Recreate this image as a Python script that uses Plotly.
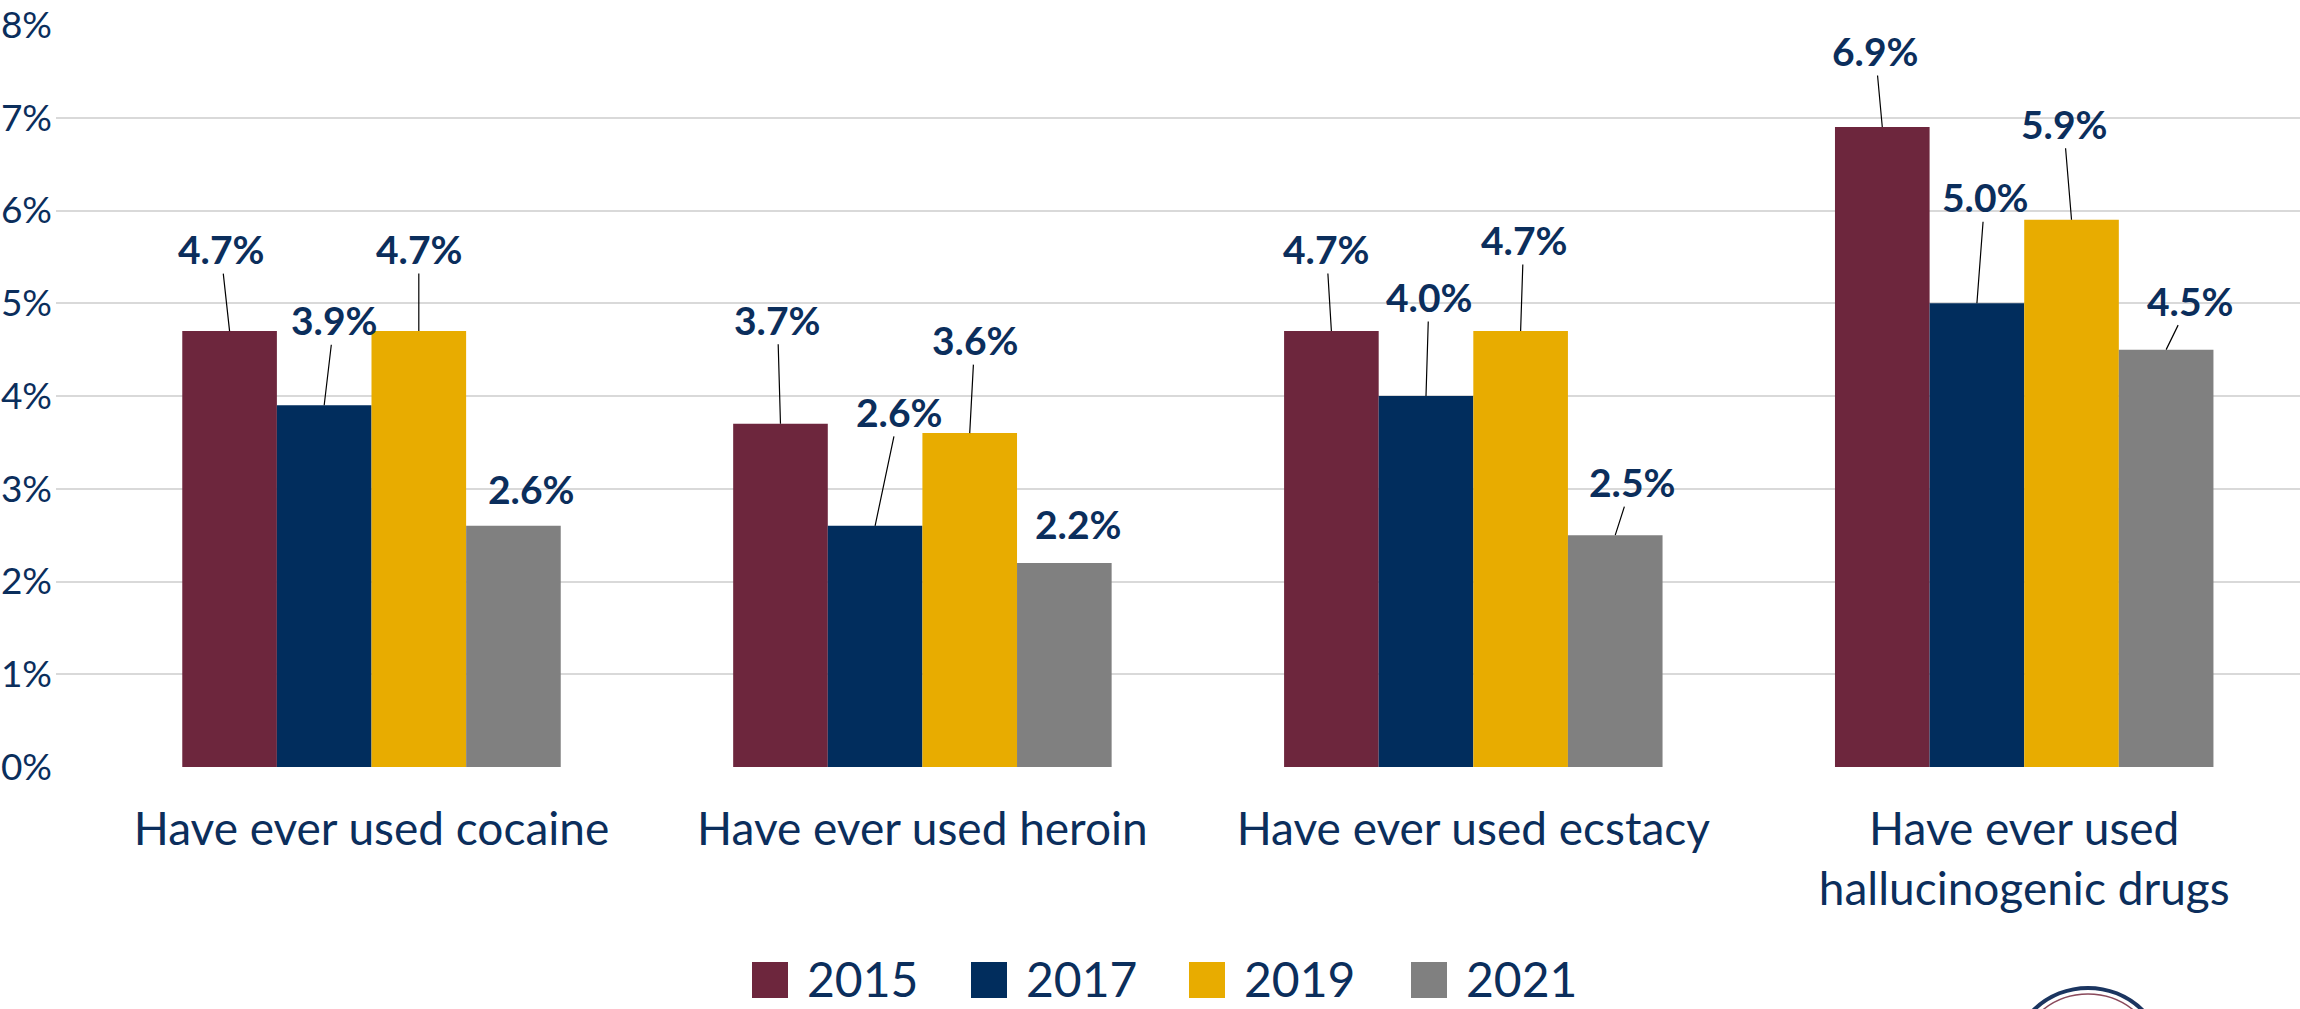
import plotly.graph_objects as go

# ---------------- data ----------------
categories = ["Have ever used cocaine", "Have ever used heroin",
              "Have ever used ecstacy", "Have ever used<br>hallucinogenic drugs"]
years = ["2015", "2017", "2019", "2021"]
v2015 = [4.7, 3.7, 4.7, 6.9]
v2017 = [3.9, 2.6, 4.0, 5.0]
v2019 = [4.7, 3.6, 4.7, 5.9]
v2021 = [2.6, 2.2, 2.5, 4.5]
ytick_vals = [0, 1, 2, 3, 4, 5, 6, 7, 8]
ytick_text = ["0%", "1%", "2%", "3%", "4%", "5%", "6%", "7%", "8%"]

series = [v2015, v2017, v2019, v2021]
colors = ["#6D263D", "#012D5D", "#E8AC00", "#808080"]
NAVY = "#0B2E5C"

# label placement (pixel offsets of label centre from bar top; whether a leader line is drawn)
label_offsets = [
    [(-9, -82, True), (-3, -104, True), (-5, -82, True), (-7, -76, True)],
    [(10, -85, True), (24, -114, True), (3, -99, True), (8, -106, True)],
    [(0, -82, True), (5, -93, True), (3, -91, True), (-8, -96, True)],
    [(18, -37, False), (14, -39, False), (17, -53, True), (24, -49, True)],
]

W, H = 2300, 1009
ML, MR, MT, MB = 56, 0, 25, 242
BARGAP = 0.313
n = len(years)
bw = (1 - BARGAP) / n

fig = go.Figure()
xs = list(range(len(categories)))
for i, (yr, vals) in enumerate(zip(years, series)):
    fig.add_trace(go.Bar(x=xs, y=vals, name=yr, marker_color=colors[i],
                         marker_line_width=0, showlegend=False,
                         hoverinfo="y"))

annotations = []
for i, vals in enumerate(series):
    for j, v in enumerate(vals):
        ax, ay, line = label_offsets[i][j]
        annotations.append(dict(
            x=j + (i - (n - 1) / 2) * bw, y=v, xref="x", yref="y",
            text=f"{v:.1f}%", showarrow=True, arrowhead=0, arrowwidth=1.2,
            arrowcolor="black" if line else "rgba(0,0,0,0)",
            ax=ax, ay=ay, axref="pixel", ayref="pixel",
            font=dict(family="Lato", size=39, color=NAVY, weight="bold"),
            standoff=0, startstandoff=0))

# manual legend (large square swatches)
pw = W - ML - MR
ph = H - MT - MB


def px2paper(px, py):
    return (px - ML) / pw, (H - MB - py) / ph


shapes = []
legend_x = [752, 971, 1189, 1411]
box = 36
ly_top = 962
for i, yr in enumerate(years):
    x0, y1 = px2paper(legend_x[i], ly_top)
    x1, y0 = px2paper(legend_x[i] + box, ly_top + box)
    shapes.append(dict(type="rect", xref="paper", yref="paper", x0=x0, x1=x1, y0=y0, y1=y1,
                       fillcolor=colors[i], line=dict(width=0), layer="above"))
    tx, ty = px2paper(legend_x[i] + box + 18, ly_top + box / 2 - 1)
    annotations.append(dict(x=tx, y=ty, xref="paper", yref="paper", text=yr,
                            showarrow=False, xanchor="left", yanchor="middle",
                            borderpad=0,
                            font=dict(family="Lato", size=48, color=NAVY)))

# partial seal in the bottom-right corner
cx, cy, r = 2088, 1066, 78
for rr, col, wd in [(r, "#1B3560", 4), (r - 6, "#8A4A5C", 1.5)]:
    x0, y1 = px2paper(cx - rr, cy - rr)
    x1, y0 = px2paper(cx + rr, cy + rr)
    shapes.append(dict(type="circle", xref="paper", yref="paper", x0=x0, x1=x1, y0=y0, y1=y1,
                       line=dict(color=col, width=wd), fillcolor="rgba(0,0,0,0)", layer="above"))

fig.update_layout(
    width=W, height=H,
    margin=dict(l=ML, r=MR, t=MT, b=MB, pad=0, autoexpand=False),
    paper_bgcolor="white", plot_bgcolor="white",
    barmode="group", bargap=BARGAP, bargroupgap=0,
    showlegend=False,
    annotations=annotations, shapes=shapes,
    font=dict(family="Lato", color=NAVY),
    xaxis=dict(range=[-0.5727, 3.5006], tickvals=xs, ticktext=categories,
               showgrid=False, zeroline=False, showline=False, ticks="",
               automargin=False,
               tickfont=dict(family="Lato", size=46, color=NAVY),
               ticklabelstandoff=31),
    yaxis=dict(range=[0, 8], tickvals=ytick_vals, ticktext=ytick_text,
               showgrid=True, gridcolor="#D9D9D9", gridwidth=2,
               zeroline=False, showline=False, ticks="",
               automargin=False,
               tickfont=dict(family="Lato", size=37, color=NAVY),
               ticklabelstandoff=3),
)

fig.write_html("out.html", config={"displayModeBar": False},
               post_script="document.body.style.margin='0px';document.body.style.overflow='hidden';")
